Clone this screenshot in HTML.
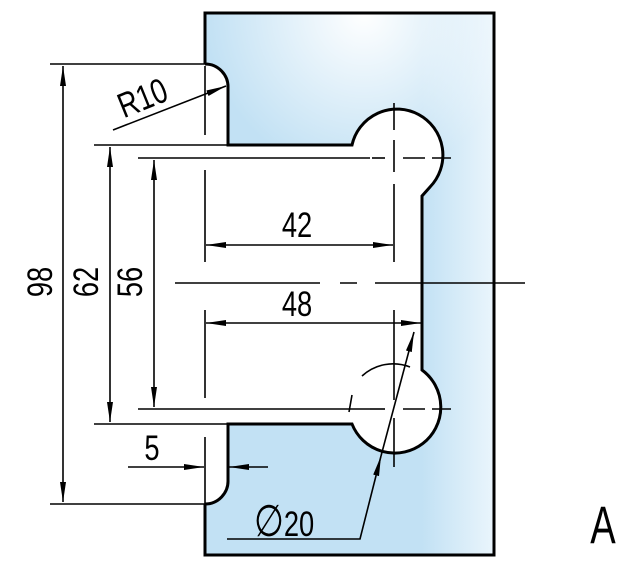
<!DOCTYPE html>
<html><head><meta charset="utf-8"><style>
html,body{margin:0;padding:0;background:#fff;}
svg{display:block;}
text{font-family:"Liberation Sans",sans-serif;fill:#000;}
</style></head><body>
<svg width="631" height="569" viewBox="0 0 631 569" xmlns="http://www.w3.org/2000/svg">
<defs>
<linearGradient id="g" x1="0" y1="0" x2="1" y2="0">
<stop offset="0" stop-color="#c2e1f4"/>
<stop offset="0.75" stop-color="#c2e1f4"/>
<stop offset="1" stop-color="#eaf5fc"/>
</linearGradient>
<radialGradient id="w" cx="0.55" cy="0.0" r="0.55">
<stop offset="0" stop-color="#ffffff" stop-opacity="1"/>
<stop offset="1" stop-color="#ffffff" stop-opacity="0"/>
</radialGradient>
<marker id="a" viewBox="0 0 20 8" refX="20" refY="4" markerWidth="20" markerHeight="8" markerUnits="userSpaceOnUse" orient="auto-start-reverse"><path d="M0,1 L20,4 L0,7 z" fill="#000"/></marker>
</defs>
<rect x="205" y="13" width="289" height="542" fill="url(#g)"/>
<rect x="205" y="13" width="289" height="300" fill="url(#w)"/>
<path d="M205,64 A23,23 0 0 1 228,88 L228,145 L352,145 A46,46 0 1 1 430,187 L422,196 L422,370 A46,46 0 1 1 352,424 L228,424 L228,480 A23,23 0 0 1 205,504 Z" fill="#fff"/>
<path d="M205,64 A23,23 0 0 1 228,88 L228,145 L352,145 A46,46 0 1 1 430,187 L422,196 L422,370 A46,46 0 1 1 352,424 L228,424 L228,480 A23,23 0 0 1 205,504" fill="none" stroke="#000" stroke-width="3"/>
<path d="M205,64 L205,13 L494,13 L494,555 L205,555 L205,504" fill="none" stroke="#000" stroke-width="3"/>
<g stroke="#000" stroke-width="1.6" fill="none">
<line x1="205" y1="66" x2="205" y2="135" />
<line x1="205" y1="170" x2="205" y2="262"/>
<line x1="205" y1="310" x2="205" y2="398"/>
<line x1="205" y1="437" x2="205" y2="504"/>
<line x1="175" y1="283" x2="320" y2="283"/>
<line x1="340" y1="283" x2="357" y2="283"/>
<line x1="375" y1="283" x2="525" y2="283"/>
<line x1="394" y1="103" x2="394" y2="130"/><line x1="394" y1="140" x2="394" y2="172"/><line x1="394" y1="184" x2="394" y2="262"/>
<line x1="372" y1="158" x2="385" y2="158"/><line x1="403" y1="158" x2="425" y2="158"/><line x1="432" y1="158" x2="451" y2="158"/>
<line x1="394" y1="310" x2="394" y2="400"/><line x1="394" y1="418" x2="394" y2="467"/>
<line x1="370" y1="409" x2="385" y2="409"/><line x1="403" y1="409" x2="425" y2="409"/><line x1="432" y1="409" x2="451" y2="409"/>
<path d="M362,376 A46,46 0 0 1 410,367"/>
<line x1="352" y1="395" x2="349" y2="412"/>
<line x1="50" y1="64" x2="205" y2="64"/>
<line x1="50" y1="504" x2="205" y2="504"/>
<line x1="94" y1="145" x2="228" y2="145"/>
<line x1="94" y1="424" x2="228" y2="424"/>
<line x1="138" y1="158" x2="370" y2="158"/>
<line x1="138" y1="409" x2="370" y2="409"/>
<line x1="63" y1="66" x2="63" y2="502" marker-start="url(#a)" marker-end="url(#a)"/>
<line x1="110" y1="147" x2="110" y2="422" marker-start="url(#a)" marker-end="url(#a)"/>
<line x1="154" y1="160" x2="154" y2="407" marker-start="url(#a)" marker-end="url(#a)"/>
<line x1="206" y1="245" x2="393" y2="245" marker-start="url(#a)" marker-end="url(#a)"/>
<line x1="206" y1="323" x2="421" y2="323" marker-start="url(#a)" marker-end="url(#a)"/>
<line x1="128" y1="467" x2="204" y2="467" marker-end="url(#a)"/>
<line x1="268" y1="467" x2="229" y2="467" marker-end="url(#a)"/>
<line x1="113" y1="130" x2="226" y2="86" marker-end="url(#a)"/>
<path d="M227,539 L360,539 L381,456" marker-end="url(#a)"/>
<line x1="381" y1="456" x2="414" y2="332" marker-end="url(#a)"/>
</g>
<text transform="translate(297,237) scale(0.78,1)" font-size="35" text-anchor="middle">42</text>
<text transform="translate(297,316) scale(0.78,1)" font-size="35" text-anchor="middle">48</text>
<text transform="translate(152,460) scale(0.78,1)" font-size="35" text-anchor="middle">5</text>
<text transform="translate(52,282) rotate(-90) scale(0.78,1)" font-size="35" text-anchor="middle">98</text>
<text transform="translate(98,282) rotate(-90) scale(0.78,1)" font-size="35" text-anchor="middle">62</text>
<text transform="translate(142,282) rotate(-90) scale(0.78,1)" font-size="35" text-anchor="middle">56</text>
<text transform="translate(147,109) rotate(-22) scale(0.78,1)" font-size="35" text-anchor="middle">R10</text>
<text transform="translate(254,536) scale(0.78,1)" font-size="35"><tspan font-size="44">∅</tspan>20</text>
<text transform="translate(603,543) scale(0.72,1)" font-size="53" text-anchor="middle">A</text>
</svg>
</body></html>
